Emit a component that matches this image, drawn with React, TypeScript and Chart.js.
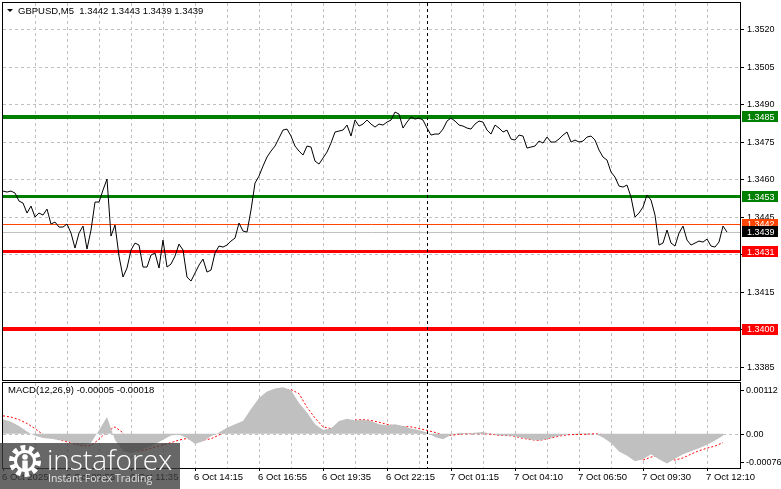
import React, { useEffect, useRef } from "react";
import { Chart, registerables } from "chart.js";

Chart.register(...registerables);

// ---------------- data ----------------
const SYMBOL_TITLE = "GBPUSD,M5  1.3442 1.3443 1.3439 1.3439";
const MACD_TITLE = "MACD(12,26,9) -0.00005 -0.00018";

const VISIBLE_BARS = 368.5;
const PRICE_STEP = 2; // bars between close samples
const MACD_STEP = 4; // bars between MACD samples

const closePrices = [
  1.34553, 1.34549, 1.34553, 1.34545, 1.34513, 1.34505, 1.34465, 1.34493, 1.34449, 1.34465,
  1.34457, 1.34481, 1.34421, 1.34429, 1.34409, 1.34409, 1.34421, 1.34385, 1.34325, 1.34385,
  1.34413, 1.34321, 1.34397, 1.34509, 1.34509, 1.34557, 1.34601, 1.34373, 1.34417, 1.34293,
  1.34209, 1.34245, 1.34317, 1.34345, 1.34337, 1.34249, 1.34249, 1.34297, 1.34305, 1.34245,
  1.34357, 1.34249, 1.34261, 1.34293, 1.34341, 1.34317, 1.34209, 1.34193, 1.34225, 1.34257,
  1.34281, 1.34229, 1.34237, 1.34305, 1.34333, 1.34329, 1.34337, 1.34353, 1.34365, 1.34425,
  1.34393, 1.34389, 1.34477, 1.34585, 1.34613, 1.34653, 1.34689, 1.34713, 1.34733, 1.34765,
  1.34797, 1.34801, 1.34773, 1.34733, 1.34713, 1.34697, 1.34733, 1.34729, 1.34673, 1.34661,
  1.34685, 1.34709, 1.34745, 1.34789, 1.34793, 1.34797, 1.34817, 1.34773, 1.34837, 1.34813,
  1.34821, 1.34837, 1.34821, 1.34809, 1.34821, 1.34817, 1.34829, 1.34837, 1.34869, 1.34861,
  1.34805, 1.34829, 1.34849, 1.34841, 1.34845, 1.34837, 1.34805, 1.34777, 1.34781, 1.34781,
  1.34801, 1.34833, 1.34845, 1.34833, 1.34817, 1.34813, 1.34805, 1.34801, 1.34821, 1.34833,
  1.34829, 1.34797, 1.34781, 1.34817, 1.34805, 1.34789, 1.34797, 1.34761, 1.34757, 1.34777,
  1.34773, 1.34725, 1.34729, 1.34733, 1.34753, 1.34745, 1.34769, 1.34749, 1.34749, 1.34761,
  1.34777, 1.34789, 1.34749, 1.34757, 1.34749, 1.34753, 1.34769, 1.34773, 1.34757, 1.34717,
  1.34689, 1.34677, 1.34629, 1.34609, 1.34573, 1.34569, 1.34577, 1.34529, 1.34449, 1.34465,
  1.34489, 1.34537, 1.34517, 1.34457, 1.34337, 1.34345, 1.34397, 1.34345, 1.34333, 1.34385,
  1.34413, 1.34357, 1.34337, 1.34345, 1.34353, 1.34349, 1.34361, 1.34333, 1.34329, 1.34349,
  1.34413, 1.34389,
];

const macdHist = [
  0.00034, 0.00028, 0.00018, 0.00005, -0.00005, -0.0001, -0.00012, -0.00015, -0.00018, -0.00025,
  -0.00026, -0.00021, 0.00008, 0.00039, -0.00015, -0.0004, -0.00046, -0.0004, -0.00033, -0.00025,
  -0.00014, -0.00004, -0.00002, -0.0001, -0.00024, -0.00018, -0.00006, 0.00003, 0.00014, 0.00022,
  0.0003, 0.00058, 0.00084, 0.00099, 0.00106, 0.00109, 0.00102, 0.00072, 0.0005, 0.00022,
  0.00009, 0.00012, 0.0003, 0.00035, 0.00031, 0.00033, 0.0003, 0.00022, 0.0002, 0.00022,
  0.00018, 0.00012, 0.00008, 0.00003, -0.00008, -0.00013, -0.00003, 0.00002, 0.00001, 0.00002,
  0.00004, 0.0, -0.00004, -0.00004, -0.00006, -0.0001, -0.00014, -0.00016, -0.00012, -0.00007,
  -0.00003, 0.0, 0.00001, 0.00001, 0.0, -0.00009, -0.00022, -0.00042, -0.00052, -0.00065,
  -0.0006, -0.00048, -0.0006, -0.0007, -0.00059, -0.00048, -0.00041, -0.00034, -0.00026, -0.00016,
  -0.00005,
];

const macdSignal = [
  0.00042, 0.00039, 0.00033, 0.00024, 0.00012, -0.00002, -0.00009, -0.00014, -0.00019, -0.00025,
  -0.00029, -0.00028, -0.00013, 0.00005, 0.00016, 0.00002, -0.00036, -0.00041, -0.00037, -0.00031,
  -0.00026, -0.00021, -0.00015, -0.00011, -0.00015, -0.00015, -0.00012, -0.00003, 0.00006, 0.00016,
  0.00024, 0.0003, 0.00046, 0.00067, 0.00091, 0.00102, 0.00104, 0.00094, 0.00062, 0.00037,
  0.00016, 0.00012, 0.00019, 0.00027, 0.00032, 0.00033, 0.00031, 0.00027, 0.00022, 0.00018,
  0.00017, 0.00016, 0.00012, 0.00008, 0.00003, -0.00003, -0.00004, -0.00001, 0.0, 0.0,
  0.0, -0.00001, -0.00004, -0.00004, -0.00006, -0.00011, -0.00014, -0.00016, -0.00012, -0.00008,
  -0.00004, -0.00002, -0.00002, -0.00001, 0.0, -0.00002, -0.00008, -0.0003, -0.00047, -0.00058,
  -0.00062, -0.00055, -0.00051, -0.00056, -0.00062, -0.00057, -0.00048, -0.0004, -0.00034, -0.00029,
  -0.00021,
];

const priceTicks = [1.352, 1.3505, 1.349, 1.3475, 1.346, 1.3445, 1.343, 1.3415, 1.34, 1.3385];
const macdTicks = [0.00112, 0, -0.00076];
const macdTickLabels = ["0.00112", "0.00", "-0.00076"];

const gridBars = [16, 32, 48, 64, 80, 96, 112, 128, 144, 160, 176, 192, 208, 224, 240, 256, 272, 288, 304, 320, 336, 352];
const timeLabelBars = [0, 32, 64, 96, 128, 160, 192, 224, 256, 288, 320, 352];
const timeLabels = [
  "6 Oct 2025", "6 Oct 08:55", "6 Oct 11:35", "6 Oct 14:15", "6 Oct 16:55", "6 Oct 19:35",
  "6 Oct 22:15", "7 Oct 01:15", "7 Oct 04:10", "7 Oct 06:50", "7 Oct 09:30", "7 Oct 12:10",
];
const separatorBar = 212;

const levelPrices = [1.3485, 1.3453, 1.3431, 1.34];
const levelLabels = ["1.3485", "1.3453", "1.3431", "1.3400"];
const askPrice = 1.3442;
const bidPrice = 1.3439;

// ---------------- styles ----------------
const LEVEL_COLORS = ["#008000", "#008000", "#FF0000", "#FF0000"];
const LEVEL_WIDTHS = [4, 3, 3, 4];
const ASK_COLOR = "#FF4500";
const BID_COLOR = "#C0C0C0";
const GRID_COLOR = "#C0C0C0";
const AXIS_FONT = '9px "Liberation Sans", Arial, sans-serif';
const TEXT_FONT = '9.5px "Liberation Sans", Arial, sans-serif';

// axis ranges (pane extents)
const PRICE_MAX = 1.353052;
const PRICE_MIN = 1.337972;
const MACD_MAX = 0.0011915;
const MACD_MIN = -0.000806;

const crisp = (v: number) => Math.round(v) + 0.5;

function vGrid(ctx: CanvasRenderingContext2D, a: any, xs: any) {
  ctx.strokeStyle = GRID_COLOR;
  ctx.lineWidth = 1;
  ctx.setLineDash([3, 3]);
  ctx.beginPath();
  for (const b of gridBars) {
    const px = crisp(xs.getPixelForValue(b));
    ctx.moveTo(px, a.top);
    ctx.lineTo(px, a.bottom);
  }
  ctx.stroke();
  ctx.setLineDash([]);
}

function separator(ctx: CanvasRenderingContext2D, a: any, xs: any) {
  ctx.strokeStyle = "#000";
  ctx.lineWidth = 1;
  ctx.setLineDash([3, 3]);
  const px = crisp(xs.getPixelForValue(separatorBar));
  ctx.beginPath();
  ctx.moveTo(px, a.top);
  ctx.lineTo(px, a.bottom);
  ctx.stroke();
  ctx.setLineDash([]);
}

function frame(ctx: CanvasRenderingContext2D, a: any) {
  ctx.strokeStyle = "#000";
  ctx.lineWidth = 1;
  ctx.strokeRect(a.left - 0.5, a.top - 0.5, a.right - a.left + 1, a.bottom - a.top + 1);
}

function box(ctx: CanvasRenderingContext2D, a: any, py: number, text: string, bg: string) {
  ctx.fillStyle = bg;
  ctx.fillRect(a.right + 2, Math.round(py - 5.5), 36, 11);
  ctx.fillStyle = "#fff";
  ctx.fillText(text, a.right + 7, py + 0.5);
}

const mainPlugin = {
  id: "mainDecor",
  beforeDatasetsDraw(chart: any) {
    const { ctx, chartArea: a, scales } = chart;
    const xs = scales.x;
    const ys = scales.y;
    ctx.save();
    ctx.strokeStyle = GRID_COLOR;
    ctx.lineWidth = 1;
    ctx.setLineDash([3, 3]);
    ctx.beginPath();
    for (const p of priceTicks) {
      const py = crisp(ys.getPixelForValue(p));
      ctx.moveTo(a.left, py);
      ctx.lineTo(a.right, py);
    }
    ctx.stroke();
    ctx.setLineDash([]);
    vGrid(ctx, a, xs);
    // bid / ask lines
    ctx.strokeStyle = BID_COLOR;
    ctx.beginPath();
    let py = crisp(ys.getPixelForValue(bidPrice));
    ctx.moveTo(a.left, py);
    ctx.lineTo(a.right, py);
    ctx.stroke();
    ctx.strokeStyle = ASK_COLOR;
    ctx.beginPath();
    py = crisp(ys.getPixelForValue(askPrice));
    ctx.moveTo(a.left, py);
    ctx.lineTo(a.right, py);
    ctx.stroke();
    // levels
    levelPrices.forEach((p, i) => {
      const w = LEVEL_WIDTHS[i];
      const y0 = Math.round(ys.getPixelForValue(p) - w / 2);
      ctx.fillStyle = LEVEL_COLORS[i];
      ctx.fillRect(a.left, y0, a.right - a.left, w);
    });
    ctx.restore();
  },
  afterDatasetsDraw(chart: any) {
    const { ctx, chartArea: a, scales } = chart;
    const xs = scales.x;
    const ys = scales.y;
    ctx.save();
    separator(ctx, a, xs);
    frame(ctx, a);
    ctx.font = AXIS_FONT;
    ctx.textBaseline = "middle";
    ctx.textAlign = "left";
    ctx.strokeStyle = "#000";
    ctx.fillStyle = "#000";
    for (const p of priceTicks) {
      const py = ys.getPixelForValue(p);
      ctx.beginPath();
      ctx.moveTo(a.right, crisp(py));
      ctx.lineTo(a.right + 4, crisp(py));
      ctx.stroke();
      ctx.fillText(p.toFixed(4), a.right + 7, py + 0.5);
    }
    levelPrices.forEach((p, i) => box(ctx, a, ys.getPixelForValue(p), levelLabels[i], LEVEL_COLORS[i]));
    box(ctx, a, ys.getPixelForValue(askPrice), askPrice.toFixed(4), ASK_COLOR);
    box(ctx, a, ys.getPixelForValue(bidPrice), bidPrice.toFixed(4), "#000");
    // title
    ctx.fillStyle = "#000";
    ctx.beginPath();
    ctx.moveTo(a.left + 4, a.top + 6);
    ctx.lineTo(a.left + 10, a.top + 6);
    ctx.lineTo(a.left + 7, a.top + 9);
    ctx.closePath();
    ctx.fill();
    ctx.font = TEXT_FONT;
    ctx.fillText(SYMBOL_TITLE, a.left + 15, a.top + 8);
    ctx.restore();
  },
};

const macdPlugin = {
  id: "macdDecor",
  beforeDatasetsDraw(chart: any) {
    const { ctx, chartArea: a, scales } = chart;
    ctx.save();
    vGrid(ctx, a, scales.x);
    ctx.strokeStyle = GRID_COLOR;
    ctx.setLineDash([3, 3]);
    const zy = crisp(scales.y.getPixelForValue(0));
    ctx.beginPath();
    ctx.moveTo(a.left, zy);
    ctx.lineTo(a.right, zy);
    ctx.stroke();
    ctx.restore();
  },
  afterDatasetsDraw(chart: any) {
    const { ctx, chartArea: a, scales } = chart;
    const xs = scales.x;
    const ys = scales.y;
    ctx.save();
    separator(ctx, a, xs);
    frame(ctx, a);
    ctx.font = AXIS_FONT;
    ctx.textBaseline = "middle";
    ctx.textAlign = "left";
    ctx.fillStyle = "#000";
    ctx.strokeStyle = "#000";
    macdTicks.forEach((v, i) => {
      const py = ys.getPixelForValue(v);
      const ly = Math.min(Math.max(py, a.top + 7), a.bottom - 6);
      ctx.beginPath();
      ctx.moveTo(a.right, crisp(ly));
      ctx.lineTo(a.right + 4, crisp(ly));
      ctx.stroke();
      ctx.fillText(macdTickLabels[i], a.right + 6, ly + 0.5);
    });
    // time axis
    ctx.font = TEXT_FONT;
    timeLabelBars.forEach((b, i) => {
      const px = xs.getPixelForValue(b);
      ctx.beginPath();
      ctx.moveTo(crisp(px), a.bottom);
      ctx.lineTo(crisp(px), a.bottom + 3);
      ctx.stroke();
      ctx.fillText(timeLabels[i], px - 1, a.bottom + 9.5);
    });
    ctx.fillText(MACD_TITLE, a.left + 5, a.top + 7.5);
    ctx.restore();
  },
};

export default function App() {
  const mainRef = useRef<HTMLCanvasElement>(null);
  const macdRef = useRef<HTMLCanvasElement>(null);

  useEffect(() => {
    const prevMargin = document.body.style.margin;
    document.body.style.margin = "0";

    const xScale = { type: "linear" as const, min: 0, max: VISIBLE_BARS, display: false };

    const main = new Chart(mainRef.current!, {
      type: "line",
      data: {
        datasets: [
          {
            data: closePrices.map((v, i) => ({ x: i * PRICE_STEP, y: v })),
            borderColor: "#000",
            borderWidth: 1,
            pointRadius: 0,
            tension: 0,
            fill: false,
          },
        ],
      },
      options: {
        responsive: false,
        animation: false,
        devicePixelRatio: 1,
        events: [],
        layout: { padding: { left: 3, right: 41, top: 3, bottom: 1 } },
        plugins: { legend: { display: false }, tooltip: { enabled: false } },
        scales: {
          x: xScale,
          y: { type: "linear", min: PRICE_MIN, max: PRICE_MAX, display: false },
        },
      },
      plugins: [mainPlugin],
    });

    const macd = new Chart(macdRef.current!, {
      type: "line",
      data: {
        datasets: [
          {
            data: macdHist.map((v, i) => ({ x: i * MACD_STEP, y: v })),
            borderWidth: 0,
            borderColor: "rgba(0,0,0,0)",
            backgroundColor: "#C0C0C0",
            pointRadius: 0,
            tension: 0,
            fill: "origin",
          },
          {
            data: macdSignal.map((v, i) => ({ x: i * MACD_STEP, y: v })),
            borderColor: "#FF0000",
            borderWidth: 1,
            borderDash: [2, 2],
            pointRadius: 0,
            tension: 0,
            fill: false,
          },
        ],
      },
      options: {
        responsive: false,
        animation: false,
        devicePixelRatio: 1,
        events: [],
        layout: { padding: { left: 3, right: 41, top: 2, bottom: 21 } },
        plugins: { legend: { display: false }, tooltip: { enabled: false } },
        scales: {
          x: xScale,
          y: { type: "linear", min: MACD_MIN, max: MACD_MAX, display: false },
        },
      },
      plugins: [macdPlugin],
    });

    return () => {
      main.destroy();
      macd.destroy();
      document.body.style.margin = prevMargin;
    };
  }, []);

  return (
    <div style={{ position: "fixed", left: 0, top: 0, width: 781, height: 489, background: "#fff", overflow: "hidden" }}>
      <canvas ref={mainRef} width={781} height={381} style={{ position: "absolute", left: 0, top: 0, display: "block" }} />
      <canvas ref={macdRef} width={781} height={108} style={{ position: "absolute", left: 0, top: 381, display: "block" }} />
      <div
        style={{
          position: "absolute",
          left: 0,
          top: 443,
          width: 180,
          height: 46,
          background: "rgba(60,60,60,0.78)",
          overflow: "hidden",
          pointerEvents: "none",
        }}
      >
        <svg style={{ position: "absolute", left: 5, top: 2 }} width={40} height={32} viewBox="0 0 40 32">
          <circle cx={20} cy={16} r={13} fill="none" stroke="#fff" strokeWidth={6} strokeDasharray="4.5 3.6" />
          <circle cx={20} cy={16} r={9.5} fill="none" stroke="#fff" strokeWidth={3} />
          <circle cx={20} cy={12} r={2.8} fill="#fff" />
          <rect x={17.3} y={15.5} width={5.4} height={10} fill="#fff" />
        </svg>
        <div
          style={{
            position: "absolute",
            left: 47,
            top: 2,
            fontFamily: '"Open Sans", sans-serif',
            fontWeight: 300,
            fontSize: 28,
            lineHeight: "28px",
            color: "#fff",
            whiteSpace: "nowrap",
          }}
        >
          instaforex
        </div>
        <div
          style={{
            position: "absolute",
            left: 48,
            top: 29,
            fontFamily: '"Open Sans", sans-serif',
            fontSize: 10.5,
            lineHeight: "12px",
            color: "rgba(255,255,255,0.8)",
            whiteSpace: "nowrap",
          }}
        >
          Instant Forex Trading
        </div>
      </div>
    </div>
  );
}
